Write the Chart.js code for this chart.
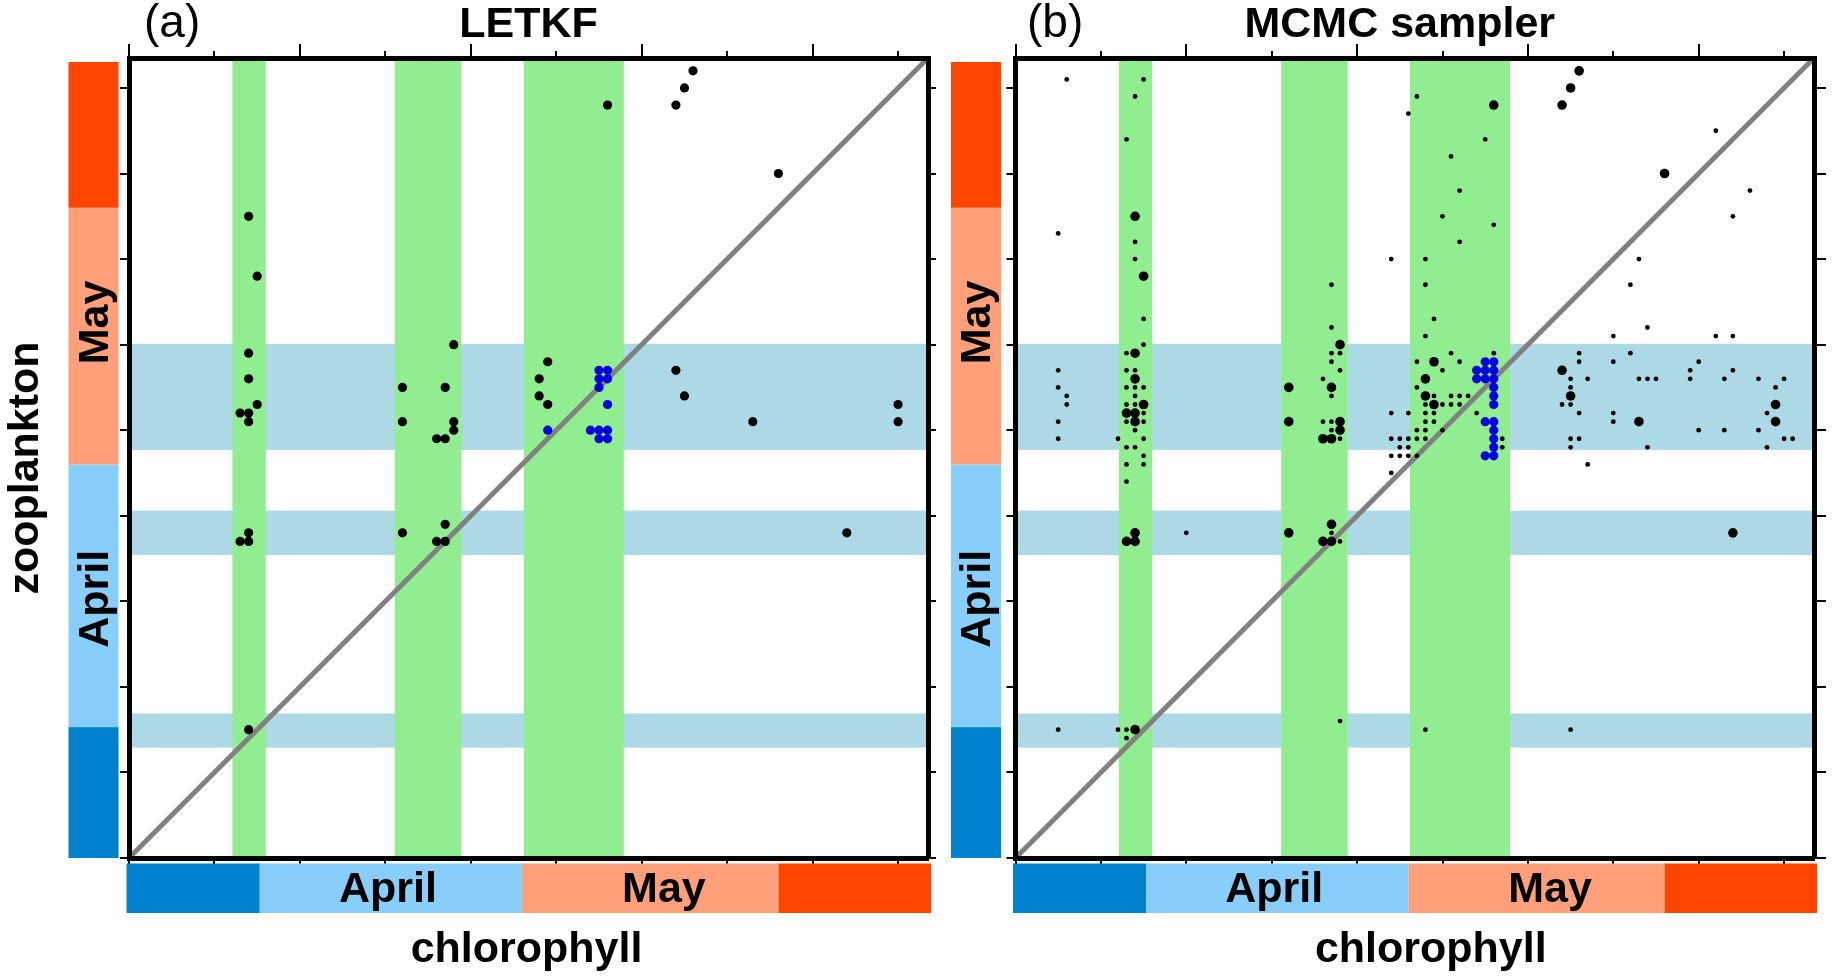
<!DOCTYPE html>
<html>
<head>
<meta charset="utf-8">
<script src="https://cdn.jsdelivr.net/npm/chart.js@4.4.1/dist/chart.umd.min.js"></script>
<style>
  html, body { margin: 0; padding: 0; background: #fff; }
  #wrap { position: relative; width: 1833px; height: 977px; overflow: hidden; }
  canvas { position: absolute; top: 0; }
  #letkf { left: 0; }
  #mcmc { left: 945px; }
</style>
</head>
<body>
<div id="wrap">
  <canvas id="letkf" width="945" height="977"></canvas>
  <canvas id="mcmc" width="888" height="977"></canvas>
</div>
<script>
// axis in days, same range for chlorophyll (x) and zooplankton (y)
const axisMax = 93.5;
const tickStep = 10;
const monthEdges = [0, 15.3, 46, 76, 93.5];
const monthColors = ['#0082cf', '#87cefa', '#ffa07a', '#ff4500'];
const monthNames = ['April', 'May'];
const monthLabelAt = [30.3, 62.6];
const greenBands = [[12.1, 16.0], [31.1, 38.9], [46.2, 57.9]];
const blueBands = [[12.9, 16.9], [35.4, 40.6], [47.7, 60.1]];

// (a) LETKF: [chlorophyll day, zooplankton day]
const letkfBlack = [
  [66, 92], [65, 90], [64, 88], [56, 88], [76, 80], [14, 75], [15, 68],
  [14, 59], [14, 56], [15, 53], [13, 52], [14, 52], [14, 51],
  [38, 60], [32, 55], [37, 55], [32, 51], [38, 51], [38, 50], [36, 49], [37, 49],
  [49, 58], [48, 56], [48, 54], [49, 53], [64, 57], [65, 54], [73, 51], [90, 53], [90, 51],
  [13, 37], [14, 37], [14, 38], [32, 38], [36, 37], [37, 37], [37, 39], [84, 38], [14, 15]
];
const letkfBlue = [
  [49, 50], [55, 57], [56, 57], [55, 56], [56, 56], [55, 55], [56, 53],
  [54, 50], [55, 50], [56, 50], [55, 49], [56, 49]
];

// (b) MCMC sampler: [chlorophyll day, zooplankton day, weight 1 small / 2 large]
const mcmcBlack = [
  [6, 91, 1], [15, 91, 1], [14, 89, 1], [13, 84, 1], [14, 75, 2], [5, 73, 1], [14, 72, 1],
  [14, 70, 1], [15, 68, 2], [15, 63, 1], [15, 60, 1], [13, 59, 1], [14, 59, 2], [5, 57, 1],
  [13, 57, 1], [14, 57, 1], [14, 56, 2], [5, 55, 1], [13, 55, 1], [14, 55, 1], [15, 55, 1],
  [6, 54, 1], [14, 54, 1], [6, 53, 1], [13, 53, 1], [14, 53, 1], [15, 53, 2], [13, 52, 2],
  [14, 52, 2], [15, 52, 1], [5, 51, 1], [13, 51, 1], [14, 51, 2], [15, 51, 1], [14, 50, 1],
  [5, 49, 1], [12, 49, 1], [15, 49, 1], [13, 48, 1], [14, 48, 1], [15, 47, 1],
  [13, 46, 1], [15, 46, 1], [13, 44, 1], [14, 38, 2], [13, 37, 2], [14, 37, 2], [20, 38, 1],
  [32, 38, 2], [37, 39, 2], [37, 38, 1], [36, 37, 2], [37, 37, 2], [38, 37, 1], [44, 45, 1],
  [5, 15, 1], [12, 15, 1], [13, 15, 1], [14, 15, 2], [13, 14, 1], [38, 16, 1], [67, 46, 1],
  [84, 38, 2], [48, 15, 1], [65, 15, 1],
  [46, 87, 1], [47, 89, 1], [44, 70, 1], [37, 67, 1], [37, 62, 1], [38, 60, 2], [37, 59, 1],
  [38, 59, 1], [37, 58, 1], [38, 57, 1], [36, 56, 1], [32, 55, 2], [37, 55, 2], [37, 54, 1],
  [44, 52, 1], [46, 52, 1], [32, 51, 2], [36, 51, 1], [37, 51, 1], [38, 51, 2], [37, 50, 1],
  [38, 50, 2], [36, 49, 2], [37, 49, 2], [38, 49, 1], [44, 49, 1], [45, 49, 1], [46, 49, 1],
  [45, 48, 1], [46, 48, 1], [44, 47, 1], [45, 47, 1], [46, 47, 1],
  [56, 88, 2], [55, 84, 1], [51, 82, 1], [52, 78, 1], [50, 75, 1], [56, 74, 1], [52, 72, 1],
  [48, 70, 1], [48, 67, 1], [49, 63, 1], [48, 61, 1], [66, 92, 2], [65, 90, 2], [64, 88, 2],
  [70, 61, 1], [51, 59, 1], [56, 59, 1], [66, 59, 1], [47, 58, 1], [49, 58, 2], [52, 58, 1],
  [66, 58, 1], [70, 58, 1], [50, 57, 1], [64, 57, 2], [57, 49, 1], [57, 48, 1], [48, 56, 2],
  [47, 55, 1], [48, 54, 2], [49, 54, 1], [51, 54, 1], [52, 54, 1], [53, 54, 1], [48, 53, 1],
  [49, 53, 2], [50, 53, 1], [51, 53, 1], [52, 53, 1], [48, 52, 1], [49, 52, 1], [54, 52, 1],
  [48, 51, 1], [49, 51, 1], [47, 50, 1], [48, 50, 1], [50, 50, 1], [47, 49, 1], [48, 49, 1],
  [47, 47, 1], [65, 56, 1], [67, 56, 1], [65, 55, 1], [65, 54, 2], [64, 53, 1], [65, 53, 1],
  [66, 52, 1], [70, 52, 1], [70, 51, 1], [65, 49, 1], [66, 49, 1], [65, 48, 1],
  [82, 85, 1], [76, 80, 2], [86, 78, 1], [84, 75, 1], [73, 70, 1], [72, 67, 1], [74, 62, 1],
  [82, 61, 1], [84, 61, 1], [72, 59, 1], [80, 58, 1], [79, 57, 1], [84, 57, 1], [73, 56, 1],
  [74, 56, 1], [75, 56, 1], [79, 56, 1], [83, 56, 1], [87, 56, 1], [90, 56, 1], [89, 55, 1],
  [89, 53, 2], [88, 52, 1], [73, 51, 2], [89, 51, 2], [80, 50, 1], [83, 50, 1], [87, 50, 1],
  [90, 49, 1], [91, 49, 1], [74, 48, 1], [88, 48, 1]
];
const mcmcBlue = [
  [55, 58], [56, 58], [54, 57], [55, 57], [56, 57], [54, 56], [55, 56], [56, 56], [56, 55],
  [56, 54], [56, 53], [55, 51], [56, 51], [56, 50], [56, 49], [56, 48], [55, 47], [56, 47]
];

const FONT = '"Liberation Sans", Arial, sans-serif';

const frame = {
  id: 'frame',
  beforeDatasetsDraw(chart) {
    const { ctx, chartArea: a, scales: { x, y } } = chart;
    ctx.save();
    ctx.beginPath();
    ctx.rect(a.left, a.top, a.width, a.height);
    ctx.clip();
    ctx.fillStyle = '#add8e6';
    blueBands.forEach(([lo, hi]) => {
      const t = y.getPixelForValue(hi), b = y.getPixelForValue(lo);
      ctx.fillRect(a.left, t, a.width, b - t);
    });
    ctx.fillStyle = '#90ee90';
    greenBands.forEach(([lo, hi]) => {
      const l = x.getPixelForValue(lo), r = x.getPixelForValue(hi);
      ctx.fillRect(l, a.top, r - l, a.height);
    });
    ctx.restore();
  },
  afterDraw(chart, args, opts) {
    const { ctx, chartArea: a, scales: { x, y } } = chart;
    const last = monthColors.length - 1;
    const barTop = a.bottom + 5.5, barH = 49.5;
    const yBarR = a.left - opts.yBarGap, yBarW = 50;
    ctx.save();
    for (let i = 0; i <= last; i++) {
      ctx.fillStyle = monthColors[i];
      let l = x.getPixelForValue(monthEdges[i]), r = x.getPixelForValue(monthEdges[i + 1]);
      if (i === 0) l -= 2.5;
      if (i === last) r += 3;
      ctx.fillRect(l, barTop, r - l, barH);
      const b = y.getPixelForValue(monthEdges[i]);
      let t = y.getPixelForValue(monthEdges[i + 1]);
      if (i === last) t += 4;
      ctx.fillRect(yBarR - yBarW, t, yBarW, b - t);
    }
    ctx.fillStyle = '#000';
    ctx.font = 'bold 43px ' + FONT;
    ctx.textAlign = 'center';
    ctx.textBaseline = 'alphabetic';
    monthNames.forEach((m, i) => {
      ctx.fillText(m, x.getPixelForValue(monthLabelAt[i]), a.bottom + 44);
      ctx.save();
      ctx.translate(yBarR - 11, y.getPixelForValue(monthLabelAt[i]));
      ctx.rotate(-Math.PI / 2);
      ctx.fillText(m, 0, 0);
      ctx.restore();
    });
    const cx = (a.left + a.right) / 2;
    ctx.fillText(opts.title, cx + opts.titleShift, 37);
    ctx.fillText('chlorophyll', cx + opts.xTitleShift, 962);
    if (opts.yTitle) {
      ctx.save();
      ctx.translate(38, 468);
      ctx.rotate(-Math.PI / 2);
      ctx.fillText(opts.yTitle, 0, 0);
      ctx.restore();
    }
    ctx.font = '46px ' + FONT;
    ctx.textAlign = 'left';
    ctx.fillText(opts.tag, a.left + opts.tagShift, 37);
    ctx.restore();
  }
};

function axis(pos, tl, extra) {
  return Object.assign({
    type: 'linear', position: pos, min: 0, max: axisMax,
    ticks: { display: false, stepSize: tickStep, includeBounds: false },
    grid: { drawOnChartArea: false, tickLength: tl, color: '#000', lineWidth: 2 },
    border: { display: true, color: '#000', width: 5, z: 1 },
    afterFit: s => { if (s.isHorizontal()) s.height = tl; else s.width = tl; }
  }, extra || {});
}

function makePanel(id, black, blue, opts, pad, rightTick) {
  const topAxis = axis('top', 14);
  topAxis.grid = Object.assign({}, topAxis.grid, {
    tickBorderDash: c => (c.tick && c.tick.value % 20 !== 0) ? [0, 7, 5, 20] : []
  });
  new Chart(document.getElementById(id), {
    type: 'scatter',
    data: {
      datasets: [
        {
          data: black.map(p => ({ x: p[0], y: p[1], w: p[2] || 1 })),
          backgroundColor: '#000', pointBorderWidth: 0,
          pointRadius: c => (c.raw && c.raw.w > 1) ? 4.8 : opts.dot,
          order: 1
        },
        {
          data: blue.map(p => ({ x: p[0], y: p[1] })),
          backgroundColor: '#0000dd', pointBorderWidth: 0, pointRadius: 4.6,
          order: 0
        },
        {
          type: 'line',
          data: [{ x: 0, y: 0 }, { x: axisMax, y: axisMax }],
          borderColor: '#808080', borderWidth: 5, pointRadius: 0,
          order: 2
        }
      ]
    },
    options: {
      responsive: false,
      animation: false,
      devicePixelRatio: 1,
      events: [],
      layout: { padding: pad },
      scales: {
        x: axis('bottom', 6),
        xt: topAxis,
        y: axis('left', 9),
        yr: axis('right', rightTick)
      },
      plugins: {
        legend: { display: false },
        tooltip: { enabled: false },
        frame: opts
      }
    },
    plugins: [frame]
  });
}

makePanel('letkf', letkfBlack, letkfBlue,
  { tag: '(a)', title: 'LETKF', yTitle: 'zooplankton', tagShift: 15, titleShift: 0, xTitleShift: -2, yBarGap: 10.5, dot: 4.6 },
  { left: 120, right: 9, top: 44, bottom: 113 }, 8);

makePanel('mcmc', mcmcBlack, mcmcBlue,
  { tag: '(b)', title: 'MCMC sampler', yTitle: '', tagShift: 11.5, titleShift: -15, xTitleShift: 16, yBarGap: 14.5, dot: 2.4 },
  { left: 61.5, right: 7, top: 44, bottom: 113 }, 12);
</script>
</body>
</html>
